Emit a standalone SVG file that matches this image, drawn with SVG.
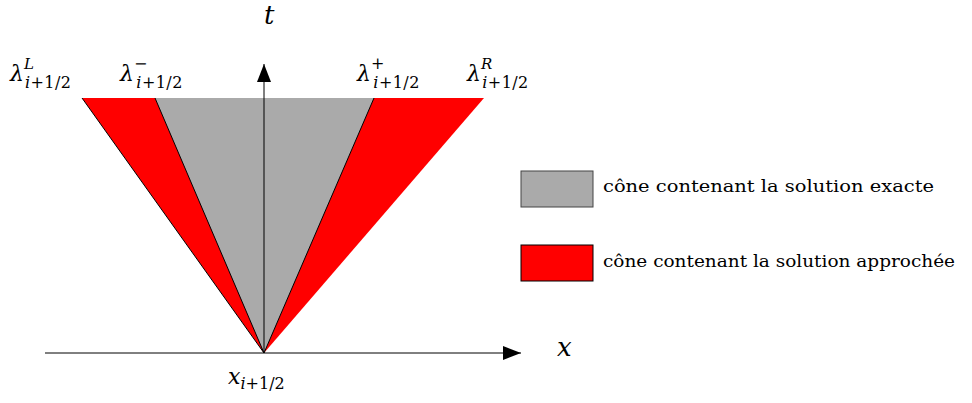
<svg xmlns="http://www.w3.org/2000/svg" width="972" height="403" viewBox="0 0 972 403">
<style>
text{font-family:"DejaVu Serif","Liberation Serif",serif;fill:#000}
.m{font-style:italic}
.lab{font-size:22px}
.leg{font-size:16px}
.edge{stroke:#000;stroke-width:1;fill:none}
</style>
<defs>
<marker id="ah" markerWidth="20" markerHeight="14" refX="18" refY="7" orient="auto" markerUnits="userSpaceOnUse">
<path d="M0,0 L18,7 L0,14 Z" fill="#000"/>
</marker>
</defs>
<g id="cone-red">
<polygon points="82,98 484,98 264,353" fill="#ff0000"/>
</g>
<g id="cone-gray">
<polygon points="155,98 374,98 264,353" fill="#aaaaaa"/>
</g>
<g id="connectors">
<line class="edge" x1="82" y1="98" x2="264" y2="353"/>
<line class="edge" x1="155" y1="98" x2="264" y2="353"/>
<line class="edge" x1="374" y1="98" x2="264" y2="353"/>
<line class="edge" x1="264" y1="353" x2="264" y2="64" marker-end="url(#ah)"/>
<line class="edge" x1="45" y1="353" x2="521" y2="353" marker-end="url(#ah)"/>
</g>
<g id="labels">
<text x="264" y="24" class="m" font-size="26">t</text>
<text x="557" y="356" class="m" font-size="26">x</text>
<text x="228" y="384" class="lab"><tspan class="m">x</tspan><tspan font-size="16" dy="5"><tspan class="m">i</tspan>+1/2</tspan></text>
<text x="10" y="81" class="lab"><tspan class="m">λ</tspan><tspan font-size="15" dy="-12" class="m">L</tspan><tspan font-size="16" dx="-9" dy="19" textLength="46"><tspan class="m">i</tspan>+1/2</tspan></text>
<text x="120" y="81" class="lab"><tspan class="m">λ</tspan><tspan font-size="16" dy="-12">−</tspan><tspan font-size="16" dx="-11" dy="19" textLength="46"><tspan class="m">i</tspan>+1/2</tspan></text>
<text x="357" y="81" class="lab"><tspan class="m">λ</tspan><tspan font-size="16" dy="-12">+</tspan><tspan font-size="16" dx="-11" dy="19" textLength="46"><tspan class="m">i</tspan>+1/2</tspan></text>
<text x="467" y="81" class="lab"><tspan class="m">λ</tspan><tspan font-size="15" dy="-12" class="m">R</tspan><tspan font-size="16" dx="-10" dy="19" textLength="46"><tspan class="m">i</tspan>+1/2</tspan></text>
</g>
<g id="legend-exact">
<rect x="521" y="171" width="72" height="36" fill="#aaaaaa" stroke="#444" stroke-width="1"/>
<text x="603" y="192" class="leg" textLength="331" lengthAdjust="spacingAndGlyphs">cône contenant la solution exacte</text>
</g>
<g id="legend-approx">
<rect x="521" y="245" width="72" height="36" fill="#ff0000" stroke="#000" stroke-width="1"/>
<text x="603" y="267" class="leg" textLength="352" lengthAdjust="spacingAndGlyphs">cône contenant la solution approchée</text>
</g>
</svg>
